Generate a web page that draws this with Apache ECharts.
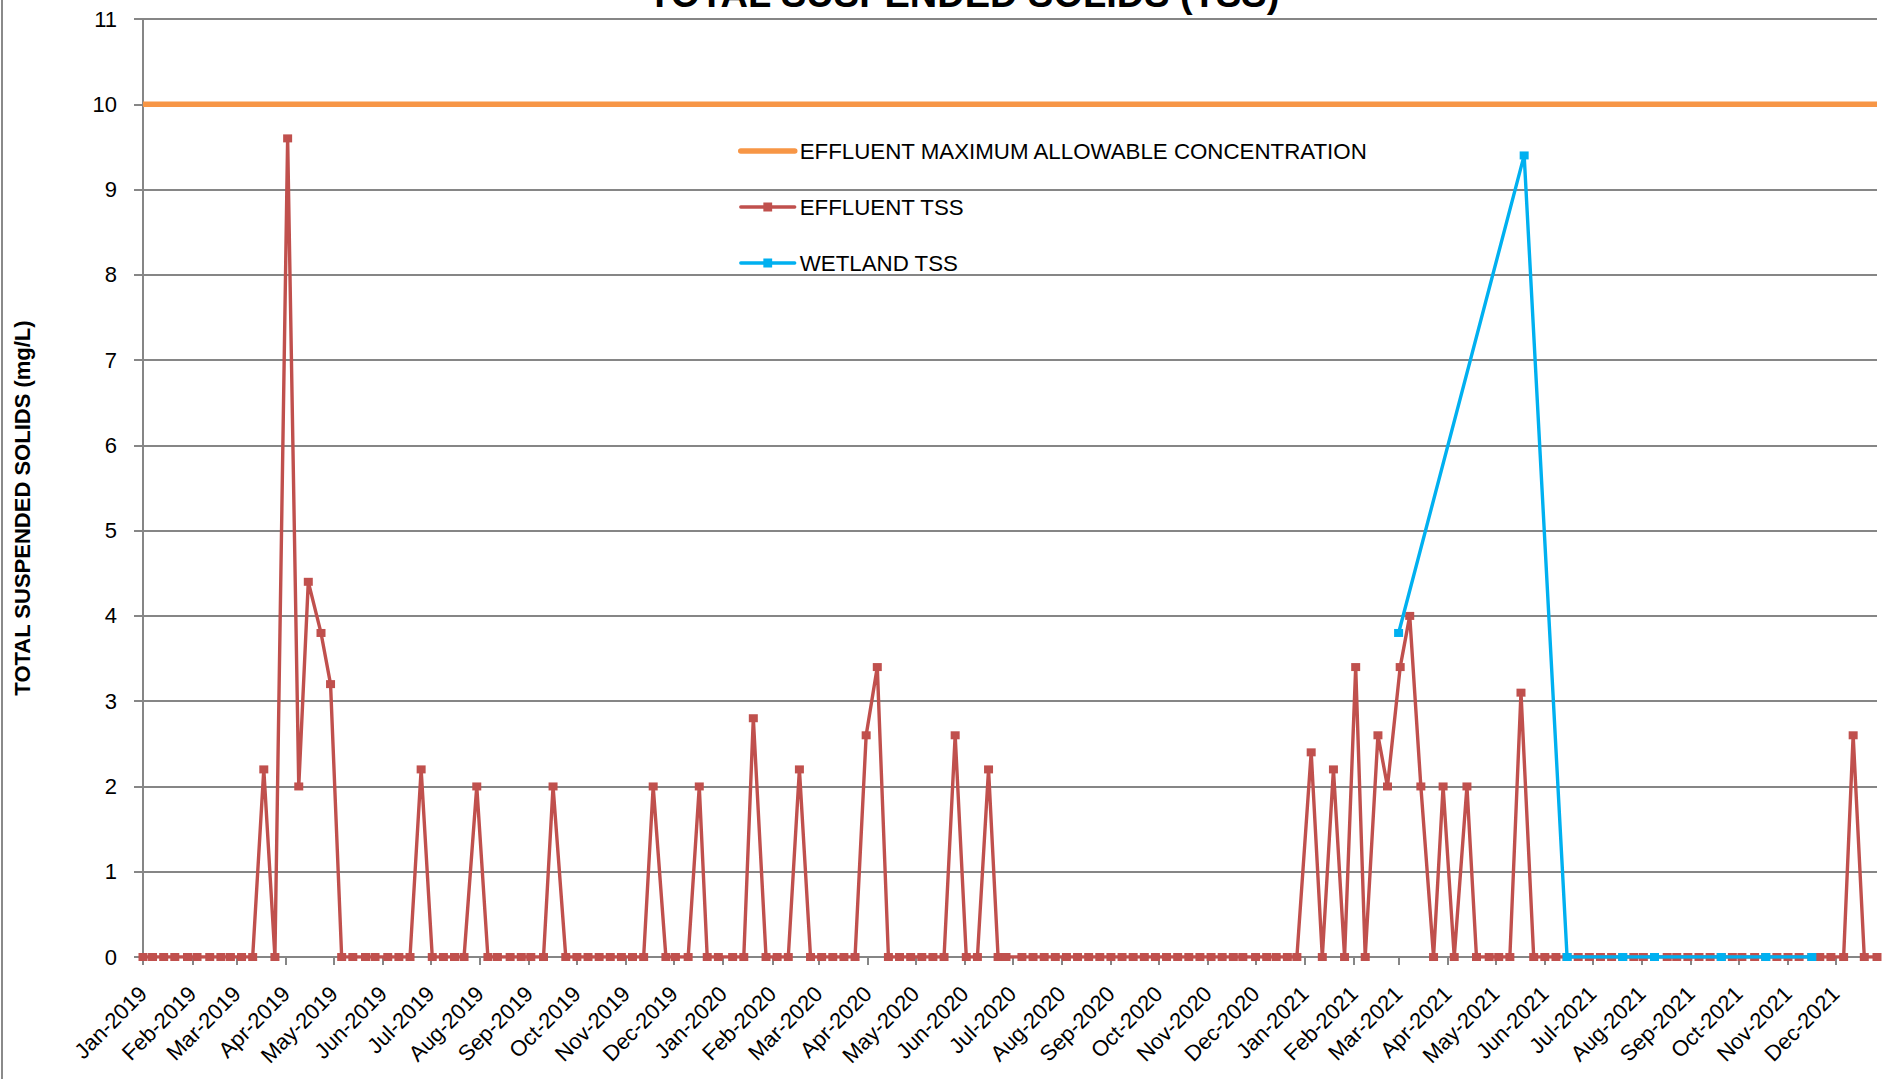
<!DOCTYPE html>
<html><head><meta charset="utf-8">
<script src="https://cdn.jsdelivr.net/npm/echarts@6/dist/echarts.min.js"></script>
<style>html,body{margin:0;padding:0;background:#fff}#chart{width:1892px;height:1079px}</style>
</head><body><div id="chart"></div>
<script>
// ---- data ----
const effluentDates = [
  '2019-01-01','2019-01-07','2019-01-14','2019-01-21','2019-01-29',
  '2019-02-04','2019-02-12','2019-02-19','2019-02-25',
  '2019-03-04','2019-03-11','2019-03-18','2019-03-25',
  '2019-04-02','2019-04-09','2019-04-15','2019-04-23','2019-04-29',
  '2019-05-06','2019-05-13','2019-05-21','2019-05-27',
  '2019-06-04','2019-06-11','2019-06-18','2019-06-25',
  '2019-07-02','2019-07-09','2019-07-16','2019-07-22','2019-07-30',
  '2019-08-06','2019-08-12','2019-08-20','2019-08-27',
  '2019-09-02','2019-09-10','2019-09-16','2019-09-24',
  '2019-10-01','2019-10-08','2019-10-15','2019-10-22','2019-10-29',
  '2019-11-05','2019-11-12','2019-11-18','2019-11-26',
  '2019-12-02','2019-12-10','2019-12-17','2019-12-22','2019-12-29',
  '2020-01-07','2020-01-14','2020-01-20','2020-01-28',
  '2020-02-04','2020-02-11','2020-02-18','2020-02-25',
  '2020-03-03','2020-03-10','2020-03-17','2020-03-24','2020-03-31',
  '2020-04-07','2020-04-14','2020-04-21','2020-04-28',
  '2020-05-05','2020-05-12','2020-05-19','2020-05-26',
  '2020-06-02','2020-06-09','2020-06-16','2020-06-22','2020-06-27',
  '2020-07-07','2020-07-14','2020-07-21','2020-07-28',
  '2020-08-04','2020-08-11','2020-08-18','2020-08-25',
  '2020-09-01','2020-09-08','2020-09-15','2020-09-22','2020-09-29',
  '2020-10-06','2020-10-13','2020-10-20','2020-10-27',
  '2020-11-03','2020-11-10','2020-11-17','2020-11-23',
  '2020-12-01','2020-12-08','2020-12-14','2020-12-21','2020-12-27',
  '2021-01-05','2021-01-12','2021-01-19','2021-01-26',
  '2021-02-02','2021-02-08','2021-02-16','2021-02-22',
  '2021-03-02','2021-03-08','2021-03-15','2021-03-23','2021-03-29',
  '2021-04-05','2021-04-13','2021-04-19','2021-04-27',
  '2021-05-03','2021-05-10','2021-05-17','2021-05-25',
  '2021-06-01','2021-06-08','2021-06-15','2021-06-22','2021-06-29',
  '2021-07-06','2021-07-13','2021-07-20','2021-07-27',
  '2021-08-02','2021-08-09','2021-08-17','2021-08-23','2021-08-30',
  '2021-09-06','2021-09-13','2021-09-20','2021-09-27',
  '2021-10-03','2021-10-11','2021-10-18','2021-10-25',
  '2021-11-01','2021-11-08','2021-11-16','2021-11-21','2021-11-28',
  '2021-12-06','2021-12-12','2021-12-19','2021-12-27'
];
const effluentTSS = [
  0,0,0,0,0,
  0,0,0,0,
  0,0,2.2,0,
  9.6,2.0,4.4,3.8,3.2,
  0,0,0,0,
  0,0,0,2.2,
  0,0,0,0,2.0,
  0,0,0,0,
  0,0,2.0,0,
  0,0,0,0,0,
  0,0,2.0,0,
  0,0,2.0,0,0,
  0,0,2.8,0,
  0,0,2.2,0,
  0,0,0,0,2.6,
  3.4,0,0,0,
  0,0,0,2.6,
  0,0,2.2,0,0,
  0,0,0,0,
  0,0,0,0,
  0,0,0,0,0,
  0,0,0,0,
  0,0,0,0,
  0,0,0,0,0,
  2.4,0,2.2,0,
  3.4,0,2.6,2.0,
  3.4,4.0,2.0,0,2.0,
  0,2.0,0,0,
  0,0,3.1,0,
  0,0,0,0,0,
  0,0,0,0,
  0,0,0,0,0,
  0,0,0,0,
  0,0,0,0,
  0,0,0,0,0,
  0,2.6,0,0
];
const wetlandDates = ['2021-03-01','2021-05-19','2021-06-15','2021-07-20','2021-08-09','2021-09-20','2021-10-18','2021-11-16'];
const wetlandTSS   = [3.8, 9.4, 0, 0, 0, 0, 0, 0];
const limitDates  = ['2019-01-01','2021-12-27'];
const limitValues = [10, 10];
const tickDates = [
  '2019-01-01','2019-02-01','2019-03-01','2019-04-01','2019-05-01','2019-06-01',
  '2019-07-01','2019-08-01','2019-09-01','2019-10-01','2019-11-01','2019-12-01',
  '2020-01-01','2020-02-01','2020-03-01','2020-04-01','2020-05-01','2020-06-01',
  '2020-07-01','2020-08-01','2020-09-01','2020-10-01','2020-11-01','2020-12-01',
  '2021-01-01','2021-02-01','2021-03-01','2021-04-01','2021-05-01','2021-06-01',
  '2021-07-01','2021-08-01','2021-09-01','2021-10-01','2021-11-01','2021-12-01'
];
const monthNames = ['Jan','Feb','Mar','Apr','May','Jun','Jul','Aug','Sep','Oct','Nov','Dec'];
const seriesNames = ['EFFLUENT MAXIMUM ALLOWABLE CONCENTRATION','EFFLUENT TSS','WETLAND TSS'];
const colors = ['#F79646','#C0504D','#00B0F0'];

// ---- helpers ----
function toTime(s){ const p = s.split('-').map(Number); return new Date(p[0], p[1]-1, p[2]).getTime(); }
function pairs(dates, vals){ return dates.map((d,i)=>[toTime(d), vals[i]]); }

const FONT = "'Liberation Sans', Arial, sans-serif";
const GRAY = '#868686';
const ticks = tickDates.map(toTime);
const chart = echarts.init(document.getElementById('chart'), null, {renderer:'svg'});
chart.setOption({
  backgroundColor:'#fff',
  animation:false,
  textStyle:{fontFamily:FONT},
  title:{
    text:'TOTAL SUSPENDED SOLIDS (TSS)', left:648, top:-25, padding:0,
    textStyle:{fontFamily:FONT, fontSize:38, fontWeight:'bold', color:'#000'}
  },
  grid:{left:143, right:15, top:19, bottom:122, containLabel:false},
  legend:{
    orient:'vertical', left:738, top:140, padding:0, itemGap:34,
    itemWidth:54, itemHeight:11,
    data:[
      {name:seriesNames[0], itemStyle:{opacity:0}, lineStyle:{width:5.5, cap:'round', color:colors[0]}},
      {name:seriesNames[1], lineStyle:{width:3.3, cap:'round', color:colors[1]}},
      {name:seriesNames[2], lineStyle:{width:3.3, cap:'round', color:colors[2]}}
    ],
    textStyle:{fontFamily:FONT, fontSize:22.3, lineHeight:22, color:'#000'}
  },
  xAxis:{
    type:'value', scale:true,
    min:toTime(limitDates[0]), max:toTime(limitDates[1]),
    axisLine:{show:true, onZero:false, lineStyle:{color:GRAY, width:2}},
    axisTick:{show:true, length:8, inside:false, customValues:ticks, lineStyle:{color:GRAY, width:2}},
    axisLabel:{
      customValues:ticks, rotate:45, margin:33,
      fontFamily:FONT, fontSize:22, color:'#000',
      formatter:function(v){ const d = new Date(v); return monthNames[d.getMonth()] + '-' + d.getFullYear(); }
    },
    splitLine:{show:false}
  },
  yAxis:{
    type:'value', min:0, max:11, interval:1,
    axisLine:{show:true, lineStyle:{color:GRAY, width:2}},
    axisTick:{show:true, length:9, inside:false, lineStyle:{color:GRAY, width:2}},
    axisLabel:{margin:26, fontFamily:FONT, fontSize:22, color:'#000'},
    splitLine:{show:true, lineStyle:{color:GRAY, width:2}}
  },
  graphic:[
    {type:'line', shape:{x1:2, y1:0, x2:2, y2:1079}, style:{stroke:'#8a8a8a', lineWidth:2}, silent:true},
    {type:'text', x:22, y:508, rotation:Math.PI/2,
     style:{text:'TOTAL SUSPENDED SOLIDS (mg/L)', fill:'#000', font:"bold 22px 'Liberation Sans', Arial, sans-serif", textAlign:'center', textVerticalAlign:'middle'}}
  ],
  series:[
    {name:seriesNames[0], type:'line', symbol:'none', data:pairs(limitDates, limitValues),
     lineStyle:{color:colors[0], width:5.5}, itemStyle:{color:colors[0]}, z:2},
    {name:seriesNames[1], type:'line', symbol:'rect', symbolSize:[9,8], showAllSymbol:true,
     data:pairs(effluentDates, effluentTSS),
     lineStyle:{color:colors[1], width:3.4}, itemStyle:{color:colors[1]}, z:3},
    {name:seriesNames[2], type:'line', symbol:'rect', symbolSize:[9,8], showAllSymbol:true,
     data:pairs(wetlandDates, wetlandTSS),
     lineStyle:{color:colors[2], width:3.4}, itemStyle:{color:colors[2]}, z:4}
  ]
});
</script></body></html>
